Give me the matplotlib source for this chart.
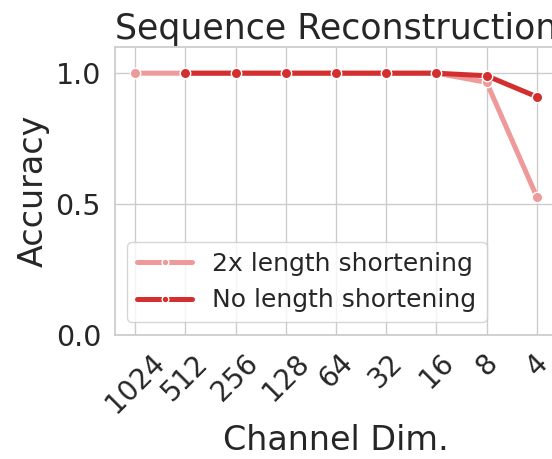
import matplotlib
matplotlib.use("Agg")
import matplotlib.pyplot as plt
import seaborn as sns
import numpy as np

sns.set_theme(style="whitegrid")
plt.rcParams['font.family'] = ['DejaVu Sans']

channel_dims = ["1024", "512", "256", "128", "64", "32", "16", "8", "4"]
acc_shortened = [1.0, 1.0, 1.0, 1.0, 1.0, 1.0, 1.0, 0.965, 0.527]
acc_full_dims = ["512", "256", "128", "64", "32", "16", "8", "4"]
acc_full = [1.0, 1.0, 1.0, 1.0, 1.0, 1.0, 0.99, 0.91]

series_labels = ["2x length shortening", "No length shortening"]
colors = ["#ef9a9a", "#d32f2f"]

fig = plt.figure(figsize=(5.52, 4.59), dpi=100)
ax = fig.add_axes([0.2083, 0.2702, 0.8007, 0.6274])

pos = {d: i for i, d in enumerate(channel_dims)}
x_short = [pos[d] for d in channel_dims]
x_full = [pos[d] for d in acc_full_dims]

ax.plot(x_short, acc_shortened, color=colors[0], lw=3.6, marker="o", ms=7.5,
        mec="white", mew=1.0, label=series_labels[0])
ax.plot(x_full, acc_full, color=colors[1], lw=3.6, marker="o", ms=7.5,
        mec="white", mew=1.0, label=series_labels[1])

ax.set_xticks(range(len(channel_dims)))
ax.set_xticklabels(channel_dims, rotation=45, fontsize=20)
ax.set_xlim(-0.4, len(channel_dims) - 1 + 0.4)
ax.set_ylim(0, 1.1)
ax.set_yticks([0.0, 0.5, 1.0])
ax.set_yticklabels(["0.0", "0.5", "1.0"], fontsize=20.5)
ax.tick_params(axis="both", pad=4)

ax.set_title("Sequence Reconstruction", fontsize=25, color=".15")
ax.set_xlabel("Channel Dim.", fontsize=24, color=".15")
ax.set_ylabel("Accuracy", fontsize=24, color=".15")

leg = ax.legend(loc="lower left", fontsize=18, markerscale=0.65,
                handlelength=2.2, borderaxespad=0.5)

fig.savefig("out.png", dpi=100)
